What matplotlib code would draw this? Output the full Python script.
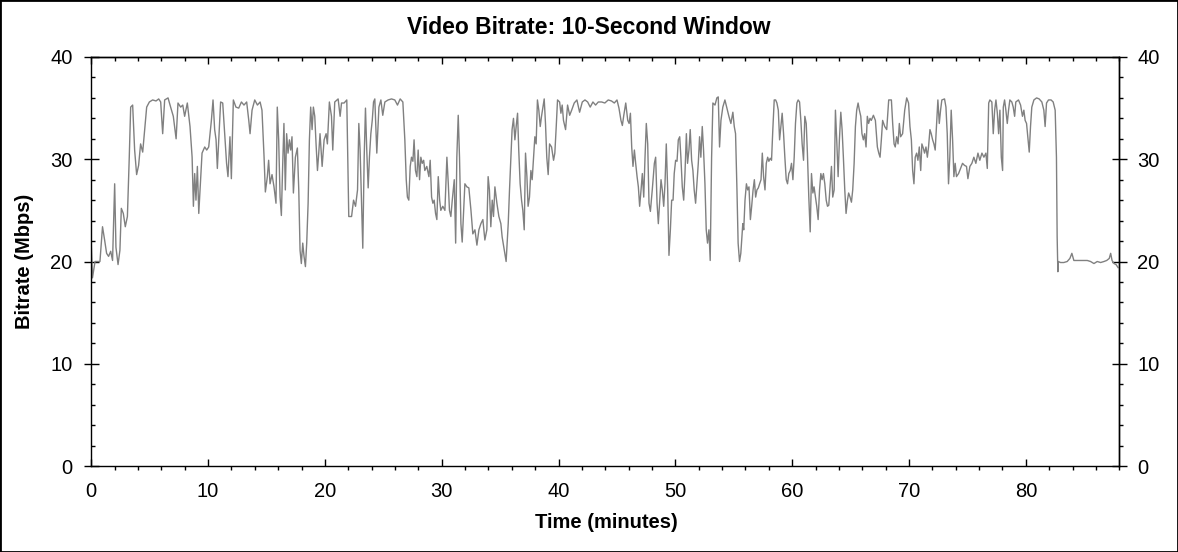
import numpy as np
import matplotlib
matplotlib.use("Agg")
import matplotlib.pyplot as plt
from matplotlib.ticker import MultipleLocator, FixedLocator

plt.rcParams['font.family'] = ['Liberation Sans', 'DejaVu Sans']

# (minutes, Mbps), section by section
sec_00_11 = [(0.0, 21.6), (0.1, 18.4), (0.32, 20.0), (0.74, 20.0), (0.96, 23.4), (1.14, 22.1),
             (1.31, 20.8), (1.48, 20.5), (1.66, 21.0), (1.82, 20.1), (2.0, 27.6), (2.11, 21.4),
             (2.29, 19.7), (2.45, 21.1), (2.57, 25.2), (2.74, 24.7), (2.91, 23.4), (3.09, 24.4),
             (3.25, 30.2), (3.37, 35.1), (3.54, 35.3), (3.71, 30.9), (3.88, 28.5), (4.05, 29.4),
             (4.22, 31.5), (4.4, 30.7), (4.56, 32.8), (4.74, 35.1), (4.97, 35.6), (5.25, 35.8),
             (5.54, 35.7), (5.77, 35.9), (5.94, 35.6), (6.11, 32.5), (6.28, 35.8), (6.57, 36.0),
             (6.79, 35.1), (7.02, 34.2), (7.26, 32.0), (7.42, 35.5), (7.65, 35.1), (7.83, 35.3),
             (7.99, 34.2), (8.22, 35.5), (8.45, 33.2), (8.63, 30.2), (8.74, 25.4), (8.85, 28.6),
             (8.96, 26.0), (9.08, 29.3), (9.2, 24.7), (9.31, 27.0), (9.48, 30.6), (9.71, 31.2),
             (9.88, 30.9), (10.05, 31.2), (10.28, 33.8), (10.42, 35.8), (10.56, 32.9),
             (10.68, 31.9), (10.79, 29.1)]

sec_11_22 = [(11.07, 35.6), (11.25, 35.5), (11.42, 32.5), (11.58, 29.6), (11.7, 28.3), (11.87, 32.2),
             (11.99, 28.1), (12.16, 35.8), (12.38, 35.1), (12.62, 35.0), (12.85, 35.6), (13.07, 35.3),
             (13.3, 35.6), (13.48, 33.8), (13.59, 32.5), (13.76, 34.8), (13.99, 35.8), (14.22, 35.3),
             (14.45, 35.6), (14.61, 34.8), (14.79, 30.2), (14.9, 26.8), (15.07, 28.3), (15.18, 29.9),
             (15.3, 27.6), (15.47, 28.5), (15.64, 27.3), (15.81, 25.7), (15.92, 35.1), (16.04, 31.9),
             (16.16, 26.3), (16.27, 24.5), (16.38, 29.3), (16.49, 33.5), (16.61, 27.0), (16.72, 32.5),
             (16.84, 30.6), (16.96, 31.9), (17.07, 30.9), (17.18, 32.2), (17.3, 26.7), (17.47, 30.2),
             (17.64, 31.1), (17.76, 27.0), (17.87, 21.1), (17.98, 19.8), (18.1, 21.8), (18.21, 20.5),
             (18.33, 19.5), (18.44, 21.8), (18.56, 25.7), (18.67, 31.9), (18.78, 35.1), (18.9, 32.9),
             (19.01, 35.1), (19.13, 34.2), (19.24, 31.5), (19.36, 28.9), (19.47, 30.6), (19.58, 32.5),
             (19.76, 29.3), (19.93, 31.9), (20.1, 32.5), (20.21, 31.5), (20.38, 35.6), (20.56, 34.2),
             (20.67, 30.9), (20.84, 35.6), (21.13, 35.9), (21.3, 34.2), (21.42, 35.5), (21.64, 35.5),
             (21.87, 35.8), (22.04, 24.4)]

sec_22_34 = [(22.11, 24.4), (22.28, 24.4), (22.45, 26.0), (22.62, 25.4), (22.79, 27.0), (22.9, 33.5),
             (23.01, 30.9), (23.13, 26.0), (23.24, 21.3), (23.36, 30.2), (23.47, 35.0), (23.58, 30.9),
             (23.7, 27.2), (23.81, 30.2), (23.93, 32.5), (24.05, 33.8), (24.16, 35.6), (24.27, 35.9),
             (24.44, 30.6), (24.62, 35.1), (24.79, 35.8), (24.95, 34.3), (25.13, 35.6), (25.41, 35.8),
             (25.7, 35.9), (25.98, 35.8), (26.21, 35.3), (26.44, 35.9), (26.67, 35.6), (26.84, 31.9),
             (26.96, 28.0), (27.06, 26.3), (27.18, 26.0), (27.3, 29.3), (27.41, 30.2), (27.53, 29.8),
             (27.63, 31.9), (27.75, 28.9), (27.87, 28.3), (27.98, 30.9), (28.1, 28.0), (28.21, 30.2),
             (28.33, 29.6), (28.45, 29.9), (28.55, 28.9), (28.72, 29.3), (28.9, 28.3), (29.01, 29.9),
             (29.13, 26.3), (29.24, 25.7), (29.35, 26.0), (29.47, 24.7), (29.58, 24.1), (29.7, 28.3),
             (29.82, 26.0), (29.92, 25.0), (30.09, 25.4), (30.27, 25.0), (30.44, 30.2), (30.56, 27.6),
             (30.66, 25.0), (30.78, 24.4), (30.9, 26.0), (31.07, 28.0), (31.19, 21.8), (31.29, 30.2),
             (31.41, 34.3), (31.52, 30.2), (31.64, 23.7), (31.75, 21.9), (31.87, 25.0), (31.98, 27.6),
             (32.15, 27.3), (32.32, 27.2), (32.5, 25.0), (32.66, 22.7), (32.84, 23.1), (33.01, 21.6),
             (33.18, 23.1), (33.35, 23.7), (33.52, 24.1)]

sec_34_45 = [(33.69, 22.1), (33.86, 23.1), (33.97, 28.3), (34.08, 27.0), (34.2, 23.4), (34.32, 26.0),
             (34.43, 24.4), (34.55, 27.3), (34.72, 25.7), (34.89, 24.4), (35.06, 23.7), (35.17, 22.4),
             (35.35, 21.1), (35.51, 20.0), (35.69, 23.7), (35.8, 27.0), (35.92, 30.2), (36.02, 32.9),
             (36.14, 34.0), (36.26, 31.9), (36.37, 33.2), (36.49, 34.5), (36.59, 30.9), (36.71, 27.6),
             (36.83, 26.0), (36.94, 25.0), (37.06, 23.1), (37.17, 30.6), (37.29, 28.3), (37.39, 25.4),
             (37.51, 26.3), (37.63, 28.9), (37.74, 28.0), (37.86, 30.2), (37.97, 32.2), (38.08, 31.5),
             (38.19, 35.8), (38.31, 34.8), (38.43, 33.2), (38.54, 34.2), (38.66, 35.1), (38.77, 35.9),
             (38.88, 33.5), (38.99, 30.2), (39.11, 28.5), (39.23, 31.5), (39.4, 31.2), (39.57, 29.9),
             (39.68, 30.6), (39.8, 33.2), (39.91, 35.8), (40.09, 35.6), (40.2, 34.5), (40.31, 35.3),
             (40.42, 33.8), (40.6, 32.9), (40.77, 35.3), (40.95, 34.3), (41.12, 34.8), (41.34, 35.5),
             (41.57, 35.8), (41.8, 34.6), (42.03, 35.6), (42.26, 35.8), (42.49, 35.6), (42.71, 35.1),
             (42.94, 35.6), (43.17, 35.3), (43.4, 35.6), (43.69, 35.6), (43.96, 35.5), (44.25, 35.8),
             (44.53, 35.7)]

sec_45_56 = [(44.77, 35.5), (45.0, 35.8), (45.17, 35.0), (45.34, 33.8), (45.46, 33.3), (45.57, 34.2),
             (45.75, 35.5), (45.92, 33.8), (46.04, 33.5), (46.15, 34.5), (46.26, 31.2), (46.37, 29.3),
             (46.49, 30.9), (46.6, 29.6), (46.72, 28.3), (46.83, 27.3), (46.94, 25.4), (47.06, 27.0),
             (47.17, 28.6), (47.29, 26.3), (47.4, 30.2), (47.51, 33.5), (47.63, 31.5), (47.74, 25.7),
             (47.86, 24.9), (48.02, 27.0), (48.2, 29.6), (48.31, 30.2), (48.43, 25.7), (48.54, 23.7),
             (48.66, 26.0), (48.77, 28.0), (48.88, 27.0), (49.0, 25.4), (49.11, 27.6), (49.22, 31.5),
             (49.34, 27.0), (49.45, 20.6), (49.57, 23.1), (49.68, 26.0), (49.8, 26.0), (49.9, 28.6),
             (50.02, 29.9), (50.14, 29.8), (50.25, 31.9), (50.37, 32.2), (50.47, 30.2), (50.59, 27.3),
             (50.71, 26.0), (50.82, 28.6), (50.94, 32.5), (51.04, 29.6), (51.16, 30.9), (51.27, 32.9),
             (51.39, 29.9), (51.5, 28.9), (51.61, 27.0), (51.73, 25.7), (51.84, 27.6), (51.96, 29.6),
             (52.07, 32.2), (52.18, 30.2), (52.3, 33.2), (52.41, 30.9), (52.53, 27.6), (52.64, 23.1),
             (52.75, 21.8), (52.87, 23.1), (52.98, 20.1), (53.1, 30.2), (53.21, 35.5), (53.39, 35.3),
             (53.55, 36.0), (53.67, 36.1), (53.78, 31.2), (53.9, 33.8), (54.06, 35.1), (54.24, 35.8),
             (54.41, 35.0), (54.58, 34.2), (54.75, 33.5), (54.92, 34.6), (55.04, 33.2), (55.15, 32.5),
             (55.27, 27.0), (55.37, 21.8), (55.49, 20.0), (55.6, 20.8), (55.77, 23.7)]

sec_56_67 = [(55.85, 23.1), (55.96, 26.0), (56.08, 27.6), (56.19, 27.0), (56.3, 27.3), (56.42, 24.1),
             (56.53, 25.4), (56.65, 27.0), (56.76, 28.0), (56.87, 26.3), (56.98, 27.0), (57.1, 27.2),
             (57.21, 27.6), (57.33, 28.0), (57.44, 30.6), (57.55, 28.3), (57.67, 27.0), (57.78, 29.6),
             (57.9, 30.2), (58.0, 29.8), (58.12, 30.1), (58.23, 29.9), (58.34, 32.9), (58.46, 35.8),
             (58.58, 35.8), (58.69, 35.5), (58.81, 34.8), (58.92, 31.9), (59.03, 33.2), (59.14, 34.5),
             (59.26, 32.5), (59.37, 30.2), (59.49, 28.0), (59.6, 27.6), (59.71, 28.6), (59.83, 28.9),
             (59.94, 29.6), (60.06, 28.0), (60.17, 30.2), (60.28, 33.5), (60.4, 35.5), (60.51, 35.8),
             (60.63, 35.6), (60.74, 33.8), (60.85, 31.5), (60.97, 29.9), (61.08, 34.2), (61.2, 33.5),
             (61.3, 30.6), (61.42, 26.3), (61.54, 22.9), (61.65, 28.6), (61.77, 26.7), (61.87, 27.3),
             (61.99, 26.3), (62.1, 25.4), (62.22, 24.1), (62.34, 27.0), (62.45, 28.6), (62.56, 28.0),
             (62.67, 28.6), (62.79, 27.6), (62.91, 26.0), (63.02, 25.4), (63.13, 25.5), (63.24, 27.3),
             (63.36, 29.3), (63.47, 26.3), (63.59, 27.0), (63.7, 34.8), (63.81, 31.9), (63.93, 28.3),
             (64.04, 31.9), (64.16, 34.6), (64.27, 32.9), (64.38, 30.2), (64.5, 27.0), (64.61, 24.7),
             (64.73, 26.0), (64.83, 26.7), (64.95, 26.3), (65.07, 25.8), (65.18, 27.0), (65.3, 29.6),
             (65.41, 33.2), (65.52, 34.8), (65.64, 35.5), (65.75, 34.8), (65.87, 34.2), (65.97, 32.5),
             (66.09, 31.9), (66.2, 32.5), (66.32, 31.2), (66.43, 34.2), (66.54, 33.5), (66.66, 34.0),
             (66.77, 33.8)]

sec_67_78 = [(66.95, 34.3), (67.12, 33.8), (67.29, 31.2), (67.41, 30.6), (67.52, 30.2), (67.63, 31.9),
             (67.74, 33.8), (67.92, 33.2), (68.09, 32.9), (68.26, 35.8), (68.49, 35.8), (68.6, 33.5),
             (68.72, 31.5), (68.82, 31.2), (68.94, 32.2), (69.06, 31.5), (69.17, 33.5), (69.28, 32.2),
             (69.45, 32.5), (69.63, 34.8), (69.8, 36.0), (69.96, 35.5), (70.08, 33.2), (70.2, 31.9),
             (70.31, 28.9), (70.42, 27.6), (70.53, 30.2), (70.65, 30.6), (70.76, 29.9), (70.88, 31.2),
             (71.0, 28.9), (71.1, 31.5), (71.22, 31.1), (71.33, 30.6), (71.45, 31.2), (71.57, 30.2),
             (71.67, 31.2), (71.79, 32.9), (71.9, 32.5), (72.02, 31.9), (72.13, 31.5), (72.24, 30.9),
             (72.36, 33.5), (72.47, 35.8), (72.59, 33.5), (72.7, 34.8), (72.81, 35.8), (73.04, 35.9),
             (73.16, 35.1), (73.27, 32.5), (73.38, 27.6), (73.49, 30.2), (73.61, 34.8), (73.73, 31.9),
             (73.84, 28.3), (73.95, 29.6), (74.06, 28.3), (74.24, 28.6), (74.41, 29.1), (74.58, 29.6),
             (74.75, 29.4), (74.92, 29.3), (75.04, 28.1), (75.21, 29.3), (75.38, 29.6), (75.55, 30.2),
             (75.72, 29.6), (75.9, 30.6), (76.06, 29.9), (76.24, 30.6), (76.41, 30.2), (76.58, 30.6),
             (76.7, 29.1), (76.82, 35.5), (76.92, 35.8), (77.09, 35.6), (77.21, 32.5), (77.33, 34.8),
             (77.44, 35.8), (77.56, 34.5), (77.67, 32.5), (77.78, 34.8), (77.9, 30.2), (78.01, 28.9)]

sec_78_88 = [(78.07, 35.1), (78.18, 35.8), (78.29, 34.8), (78.41, 33.5), (78.52, 34.8), (78.63, 35.8),
             (78.8, 35.6), (78.92, 35.1), (79.04, 34.2), (79.14, 35.6), (79.37, 35.8), (79.55, 35.3),
             (79.71, 34.2), (79.83, 34.8), (79.94, 33.8), (80.06, 33.5), (80.17, 32.2), (80.29, 30.7),
             (80.4, 33.2), (80.51, 35.1), (80.69, 35.8), (80.92, 36.0), (81.14, 35.9), (81.37, 35.6),
             (81.54, 34.8), (81.65, 33.2), (81.77, 35.5), (81.94, 35.8), (82.16, 35.8), (82.34, 35.6),
             (82.51, 34.8), (82.62, 30.2), (82.68, 22.4), (82.74, 19.0), (82.77, 20.0), (82.97, 19.9),
             (83.25, 19.9), (83.54, 20.0), (83.77, 20.3), (83.94, 20.8), (84.11, 20.1), (84.4, 20.1),
             (84.68, 20.1), (84.97, 20.1), (85.26, 20.1), (85.54, 20.0), (85.83, 19.8), (86.11, 20.0),
             (86.4, 19.9), (86.69, 20.0), (86.92, 20.1), (87.14, 20.3), (87.26, 20.8), (87.38, 20.1),
             (87.55, 19.8), (87.72, 19.7), (87.9, 19.4)]

sections = [sec_00_11, sec_11_22, sec_22_34, sec_34_45, sec_45_56, sec_56_67, sec_67_78, sec_78_88]
data = np.array([p for sec in sections for p in sec])
minutes, mbps = data[:, 0], data[:, 1]

x_major = [0, 10, 20, 30, 40, 50, 60, 70, 80]
x_minor = list(range(0, 89, 2))
y_major = [0, 10, 20, 30, 40]
y_minor = list(range(0, 41, 2))

fig = plt.figure(figsize=(11.78, 5.52), dpi=100)
ax = fig.add_axes([91.3 / 1178, 1 - 466 / 552, 1028 / 1178, 409 / 552])

ax.plot(minutes, mbps, color='#808080', lw=1.0)

ax.set_xlim(0, 88)
ax.set_ylim(0, 40)
ax.xaxis.set_major_locator(FixedLocator(x_major))
ax.xaxis.set_minor_locator(FixedLocator(x_minor))
ax.yaxis.set_major_locator(FixedLocator(y_major))
ax.yaxis.set_minor_locator(FixedLocator(y_minor))

ax.tick_params(axis='x', which='major', direction='in', length=5, width=1,
               labelsize=14.5, pad=11.5, top=False)
ax.tick_params(axis='x', which='minor', direction='out', length=2.9, width=1, top=False)
ax.tick_params(axis='y', which='major', direction='inout', length=10.8, width=1,
               labelsize=14.5, pad=8, right=False)
ax.tick_params(axis='y', which='minor', direction='in', length=2.9, width=1, right=False)

top = ax.secondary_xaxis('top')
top.xaxis.set_major_locator(FixedLocator(x_major))
top.xaxis.set_minor_locator(FixedLocator(x_minor))
top.tick_params(axis='x', which='major', direction='in', length=5, width=1, labeltop=False)
top.tick_params(axis='x', which='minor', direction='in', length=2.9, width=1)

right = ax.secondary_yaxis('right')
right.yaxis.set_major_locator(FixedLocator(y_major))
right.yaxis.set_minor_locator(FixedLocator(y_minor))
right.tick_params(axis='y', which='major', direction='inout', length=10.8, width=1,
                  labelsize=14.5, pad=7.5)
right.tick_params(axis='y', which='minor', direction='out', length=2.9, width=1)

for a in (ax, top, right):
    for s in a.spines.values():
        s.set_linewidth(1)

ax.set_xlabel("Time (minutes)", fontsize=14.5, fontweight='bold', va='center')
ax.xaxis.set_label_coords((606.5 - 91.3) / 1028, (466 - 523) / 409)
ax.set_ylabel("Bitrate (Mbps)", fontsize=14.5, fontweight='bold', va='center')
ax.yaxis.set_label_coords((25 - 91.3) / 1028, (466 - 261) / 409)

fig.text(0.5, 1 - 27 / 552, "Video Bitrate: 10-Second Window", ha='center', va='center',
         fontsize=16.5, fontweight='bold')

fig.patches.append(plt.Rectangle((0, 0), 1, 1, transform=fig.transFigure, fill=False,
                                 lw=2, ec='black'))

fig.savefig("out.png", dpi=100)
